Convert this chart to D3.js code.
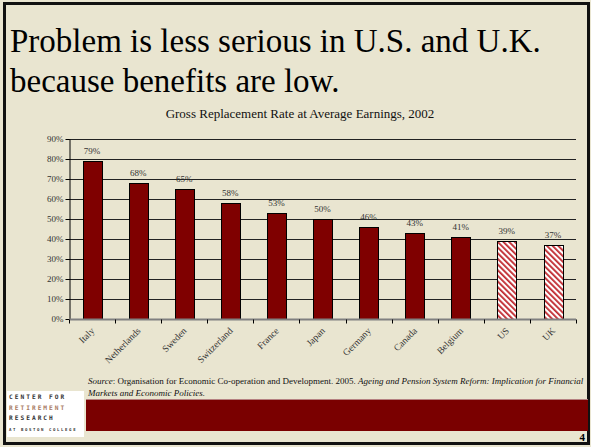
<!DOCTYPE html>
<html>
<head>
<meta charset="utf-8">
<script src="https://cdn.jsdelivr.net/npm/d3@7"></script>
<style>
  html, body { margin: 0; padding: 0; background: #e9e5d0; }
  svg { display: block; }
  .serif { font-family: "Liberation Serif", "Times New Roman", serif; }
</style>
</head>
<body>
<svg id="chart" width="591" height="447"></svg>
<script>
const categories = ["Italy", "Netherlands", "Sweden", "Switzerland", "France", "Japan", "Germany", "Canada", "Belgium", "US", "UK"];
const values = [79, 68, 65, 58, 53, 50, 46, 43, 41, 39, 37];
const hatched = ["US", "UK"];
const yTicks = [0, 10, 20, 30, 40, 50, 60, 70, 80, 90];
const titleLines = ["Problem is less serious in U.S. and U.K.", "because benefits are low."];
const chartTitle = "Gross Replacement Rate at Average Earnings, 2002";
const logoLines = ["CENTER FOR", "RETIREMENT", "RESEARCH", "AT BOSTON COLLEGE"];

const svg = d3.select("#chart");

// background + frame
svg.append("rect").attr("x", 0).attr("y", 0).attr("width", 591).attr("height", 447).attr("fill", "#e9e5d0");
svg.append("rect").attr("x", 4.5).attr("y", 3.5).attr("width", 584).attr("height", 440)
  .attr("fill", "none").attr("stroke", "#111").attr("stroke-width", 3);

// titles
svg.append("g").selectAll("text").data(titleLines).join("text").attr("class", "serif")
  .attr("x", 10).attr("y", (d, i) => 52 + i * 40)
  .attr("font-size", 33).attr("fill", "#000")
  .text(d => d);

svg.append("text").attr("class", "serif").attr("x", 300).attr("y", 118).attr("text-anchor", "middle")
  .attr("font-size", 13).attr("fill", "#111").text(chartTitle);

// pattern for hatched bars
const defs = svg.append("defs");
const pat = defs.append("pattern").attr("id", "hatch").attr("patternUnits", "userSpaceOnUse")
  .attr("width", 4).attr("height", 4).attr("patternTransform", "rotate(-45)");
pat.append("rect").attr("width", 4).attr("height", 4).attr("fill", "#ffffff");
pat.append("rect").attr("x", 0).attr("y", 0).attr("width", 1.8).attr("height", 4).attr("fill", "#c0282e");

// scales
const x = d3.scaleBand().domain(categories).range([69, 576]).paddingInner(0.59).paddingOuter(0.295);
const xb = d3.scaleBand().domain(categories).range([69, 576]);
const y = d3.scaleLinear().domain([0, 90]).range([319, 139]);

// gridlines
svg.append("g").selectAll("line").data(yTicks.filter(t => t > 0)).join("line")
  .attr("x1", 69).attr("x2", 576).attr("y1", d => y(d) + 0.5).attr("y2", d => y(d) + 0.5)
  .attr("stroke", "#222").attr("stroke-width", 1);

// y axis
const yAxis = svg.append("g").attr("transform", "translate(69.5,0)")
  .call(d3.axisLeft(y).tickValues(yTicks).tickFormat(d => d + "%").tickSize(4).tickSizeOuter(0));
yAxis.attr("font-family", null).attr("font-size", null);
yAxis.select(".domain").attr("stroke", "#000");
yAxis.selectAll(".tick line").attr("stroke", "#000");
yAxis.selectAll("text").attr("class", "serif").attr("font-size", 9).attr("fill", "#333").attr("x", -6);

// bars
svg.append("g").selectAll("rect").data(categories).join("rect")
  .attr("x", d => Math.round(x(d)) + 0.5)
  .attr("y", (d, i) => Math.round(y(values[i])) + 0.5)
  .attr("width", Math.round(x.bandwidth()))
  .attr("height", (d, i) => Math.round(y(0)) - Math.round(y(values[i])))
  .attr("fill", d => hatched.includes(d) ? "url(#hatch)" : "#7f0000")
  .attr("stroke", "#000").attr("stroke-width", 1);

// value labels
svg.append("g").selectAll("text").data(categories).join("text").attr("class", "serif")
  .attr("x", d => x(d) + x.bandwidth() / 2)
  .attr("y", (d, i) => y(values[i]) - 7)
  .attr("text-anchor", "middle")
  .attr("font-size", 9).attr("fill", "#333")
  .text((d, i) => values[i] + "%");

// x axis
const xAxisG = svg.append("g").attr("transform", "translate(0,319.5)");
xAxisG.append("line").attr("x1", 69).attr("x2", 576).attr("y1", 0).attr("y2", 0)
  .attr("stroke", "#808080").attr("stroke-width", 2);
xAxisG.selectAll("line.tk").data(d3.range(categories.length + 1)).join("line").attr("class", "tk")
  .attr("x1", i => Math.round(69 + i * xb.bandwidth()) + 0.5)
  .attr("x2", i => Math.round(69 + i * xb.bandwidth()) + 0.5)
  .attr("y1", 0).attr("y2", 4).attr("stroke", "#000");
xAxisG.selectAll("text").data(categories).join("text").attr("class", "serif")
  .attr("transform", d => `translate(${x(d) + x.bandwidth() / 2 + 3},${12}) rotate(-45)`)
  .attr("text-anchor", "end")
  .attr("font-size", 9.5).attr("fill", "#333")
  .text(d => d);

// source
const src = svg.append("text").attr("class", "serif").attr("x", 88).attr("y", 384)
  .attr("font-size", 9).attr("fill", "#111");
src.append("tspan").attr("font-style", "italic").text("Source");
src.append("tspan").text(": Organisation for Economic Co-operation and Development. 2005. ");
src.append("tspan").attr("font-style", "italic").text("Ageing and Pension System Reform: Implication for Financial");
svg.append("text").attr("class", "serif").attr("x", 88).attr("y", 396)
  .attr("font-size", 9).attr("font-style", "italic").attr("fill", "#111")
  .text("Markets and Economic Policies.");

// footer band
svg.append("line").attr("x1", 86).attr("x2", 588).attr("y1", 399.5).attr("y2", 399.5)
  .attr("stroke", "#b58080").attr("stroke-width", 1);
svg.append("rect").attr("x", 86).attr("y", 400).attr("width", 502).attr("height", 31).attr("fill", "#7a0000");

// logo
svg.append("rect").attr("x", 7).attr("y", 391).attr("width", 77).attr("height", 46).attr("fill", "#ffffff");
svg.append("g").selectAll("text").data(logoLines).join("text")
  .attr("x", 9).attr("y", (d, i) => 399 + i * 10.5)
  .attr("font-family", "'DejaVu Sans Mono', monospace")
  .attr("font-size", (d, i) => i === 3 ? 4 : 6.2)
  .attr("letter-spacing", (d, i) => i === 3 ? 1.6 : 2.0)
  .attr("font-weight", "bold")
  .attr("fill", (d, i) => i === 1 ? "#a87a62" : "#333")
  .text(d => d);

// page number
svg.append("text").attr("class", "serif").attr("x", 585).attr("y", 441).attr("text-anchor", "end")
  .attr("font-size", 11).attr("font-weight", "bold").attr("fill", "#000").text("4");
</script>
</body>
</html>
